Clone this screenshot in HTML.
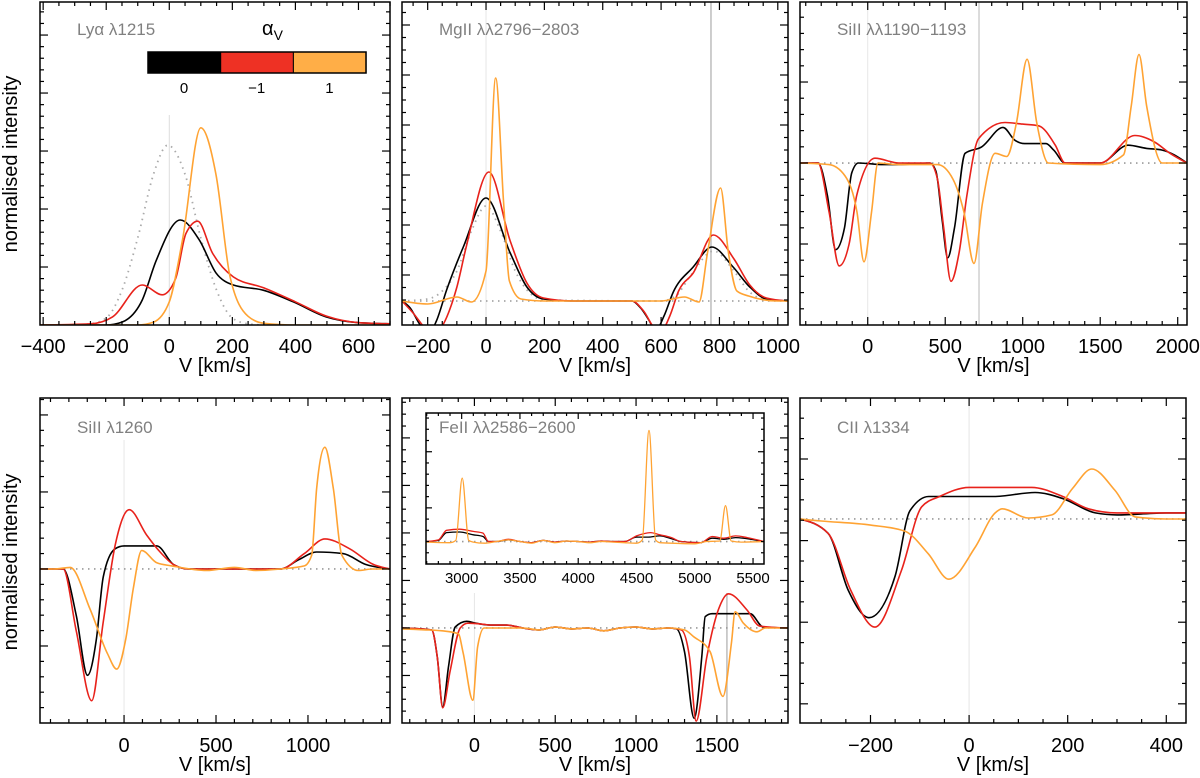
<!DOCTYPE html>
<html><head><meta charset="utf-8"><style>
body{margin:0;background:#fff}
svg{display:block;font-family:"Liberation Sans",sans-serif}
</style></head><body>
<svg id="chart" width="1200" height="778" viewBox="0 0 1200 778"></svg>
<script>
// ---------- data (velocity km/s, normalised intensity) ----------
// Ly-alpha
const lyaBlackV=[-410,-200,-150,-86,-41,35,95,148,203,298,393,497,600,700];
const lyaBlackI=[0,0,0.05,0.43,1.12,1.81,1.47,0.9,0.69,0.6,0.4,0.14,0.04,0.02];
const lyaRedV=[-410,-250,-180,-86,-22,20,53,90,137,203,300,400,500,600,700];
const lyaRedI=[0,0.02,0.14,0.69,0.52,0.8,1.58,1.79,1.24,0.83,0.64,0.4,0.15,0.04,0.02];
const lyaOrangeV=[-410,-100,-50,0,42,100,148,193,250,300,400,700];
const lyaOrangeI=[0,0,0.05,0.4,1.47,3.4,2.6,0.83,0.15,0.03,0,0];
const lyaIntrV=[-300,-250,-200,-150,-100,-50,-5,50,100,150,200,250,300];
const lyaIntrI=[0,0.02,0.12,0.6,1.5,2.6,3.1,2.6,1.5,0.6,0.12,0.02,0];
// MgII
const mgBlackV=[-288,-260,-230,-200,-170,-135,-78,0,83,140,197,300,500,530,560,580,610,642,710,774,847,904,961,1035];
const mgBlackI=[1.0,0.93,0.78,0.66,0.8,1.11,1.54,2.03,1.48,1.14,1.02,1.0,1.0,0.93,0.8,0.7,0.85,1.09,1.34,1.54,1.34,1.14,1.02,1.0];
const mgRedV=[-288,-250,-200,-180,-150,-120,-100,-68,10,83,140,197,300,500,540,580,600,630,660,710,779,850,904,961,1035];
const mgRedI=[1.0,0.88,0.7,0.66,0.75,0.95,1.14,1.54,2.29,1.6,1.18,1.03,1.0,1.0,0.9,0.72,0.7,0.85,1.1,1.28,1.66,1.42,1.16,1.03,1.0];
const mgOrangeV=[-288,-200,-100,-50,0,33,60,80,120,200,600,680,730,760,804,830,860,900,1000,1035];
const mgOrangeI=[1.0,0.97,1.04,0.99,1.3,3.23,2.0,1.2,1.02,1.0,1.0,1.04,0.99,1.5,2.13,1.5,1.1,1.05,1.0,1.0];
const mgIntrV=[-288,-200,-150,-100,-50,0,50,100,150,200,600,650,700,780,850,900,950,1035];
const mgIntrI=[1.0,1.02,1.1,1.3,1.7,1.95,1.7,1.3,1.08,1.01,1.0,1.05,1.25,1.5,1.3,1.1,1.02,1.0];
// SiII 1190-1193
const si1BlackV=[-437,-320,-260,-207,-150,-103,-60,100,200,400,440,480,516,560,628,736,873,950,1013,1150,1200,1273,1500,1680,1800,1900,2060];
const si1BlackI=[1.0,1.0,0.8,0.465,0.6,0.94,1.0,0.99,0.99,1.0,0.95,0.65,0.415,0.6,1.06,1.1,1.22,1.14,1.12,1.12,1.08,1.0,1.0,1.11,1.09,1.08,1.0];
const si1RedV=[-437,-320,-250,-184,-120,-71,47,200,400,450,490,537,590,640,715,886,1000,1102,1210,1273,1500,1723,1850,1950,2060];
const si1RedI=[1.0,1.0,0.7,0.365,0.5,0.8,1.03,1.0,1.0,0.9,0.6,0.27,0.45,0.8,1.15,1.25,1.24,1.23,1.11,1.0,1.0,1.17,1.13,1.06,1.0];
const si1OrangeV=[-437,-250,-146,-70,-24,25,66,200,450,550,620,686,740,822,897,960,1028,1090,1166,1500,1650,1700,1750,1800,1900,2060];
const si1OrangeI=[1.0,0.99,0.92,0.7,0.39,0.7,1.0,0.99,0.99,0.9,0.7,0.38,0.75,1.06,1.04,1.25,1.64,1.25,1.0,0.99,1.05,1.35,1.67,1.35,1.0,1.0];
// SiII 1260
const si2BlackV=[-457,-331,-260,-199,-150,-113,-50,0,178,268,350,600,850,950,1047,1190,1313,1446];
const si2BlackI=[1.0,1.0,0.7,0.31,0.55,0.95,1.13,1.15,1.15,1.03,1.0,1.0,1.0,1.06,1.11,1.1,1.03,1.0];
const si2RedV=[-457,-331,-260,-176,-114,-49,28,123,196,268,350,600,850,980,1092,1228,1355,1446];
const si2RedI=[1.0,1.0,0.6,0.145,0.65,1.15,1.385,1.22,1.11,1.03,1.0,1.0,1.0,1.1,1.195,1.13,1.03,1.0];
const si2OrangeV=[-457,-380,-293,-185,-90,-40,10,50,96,178,260,450,600,720,850,980,1020,1047,1092,1138,1184,1275,1350,1446];
const si2OrangeI=[1.0,1.0,1.01,0.74,0.45,0.35,0.55,0.87,1.12,1.04,1.02,0.99,1.01,0.99,1.0,1.02,1.09,1.52,1.79,1.52,1.09,0.99,1.0,1.0];
// FeII 2586-2600 (main)
const feBlackV=[-448,-264,-230,-196,-160,-119,-47,9,100,200,300,400,500,600,700,800,900,1000,1100,1200,1250,1300,1359,1407,1428,1470,1600,1706,1787,1940];
const feBlackI=[1.0,0.98,0.7,0.17,0.6,1.01,1.07,1.05,1.03,1.03,1.0,0.98,1.01,0.99,1.0,0.97,1.0,1.01,0.99,1.0,0.99,0.75,0.05,0.7,1.12,1.15,1.15,1.15,1.01,1.0];
const feRedV=[-448,-264,-230,-196,-150,-88,-40,50,100,200,300,400,500,600,700,800,900,1000,1100,1200,1280,1330,1372,1438,1509,1572,1686,1765,1940];
const feRedI=[1.0,0.98,0.7,0.16,0.55,1.0,1.05,1.04,1.03,1.03,1.0,0.98,1.01,0.99,1.0,0.97,1.0,1.01,0.99,1.0,0.98,0.7,0.02,0.7,1.19,1.36,1.19,1.02,1.0];
const feOrangeV=[-448,-300,-200,-100,-70,-10,20,60,150,300,400,500,600,700,800,900,1000,1100,1200,1300,1355,1458,1537,1590,1613,1664,1747,1800,1940];
const feOrangeI=[0.99,0.98,0.97,0.94,0.74,0.24,0.8,1.0,1.0,1.0,0.98,1.01,0.99,1.0,0.97,1.0,1.01,0.99,1.0,0.98,0.91,0.75,0.28,0.84,1.17,1.05,0.96,1.0,1.0];
// FeII inset
const insBlackV=[2694,2800,2871,2983,3100,3183,3230,3300,3400,3500,3600,3700,3800,3900,4000,4100,4200,4300,4400,4500,4600,4700,4800,4880,5050,5150,5250,5350,5450,5594];
const insBlackI=[1.0,1.02,1.16,1.17,1.12,1.09,1.0,1.0,1.03,1.0,0.98,1.02,0.99,1.01,1.0,0.99,1.01,1.0,1.0,1.08,1.08,1.1,1.05,1.0,0.98,1.06,1.04,1.07,1.05,1.0];
const insRedV=[2694,2800,2871,2983,3100,3183,3230,3300,3400,3500,3600,3700,3800,3900,4000,4100,4200,4300,4400,4500,4620,4700,4800,4880,5050,5150,5250,5350,5450,5594];
const insRedI=[1.0,1.03,1.2,1.22,1.18,1.15,1.0,1.0,1.04,1.0,0.98,1.02,0.99,1.01,1.0,0.99,1.01,1.0,1.0,1.1,1.16,1.12,1.07,1.0,0.98,1.09,1.06,1.1,1.07,1.0];
const insOrangeV=[2694,2900,2950,3005,3060,3100,3200,3300,3400,3500,3600,3700,3800,3900,4000,4100,4200,4300,4400,4500,4550,4607,4664,4700,4800,5000,5100,5215,5264,5313,5400,5594];
const insOrangeI=[0.99,0.98,1.02,2.13,1.02,0.99,0.97,1.0,1.03,1.0,0.97,1.02,0.98,1.01,1.0,0.98,1.0,0.99,0.98,0.97,1.03,2.98,1.03,0.98,0.97,0.96,1.0,1.01,1.64,1.01,0.99,1.0];
// CII 1334
const ciiBlackV=[-343,-286,-245,-203,-150,-120,-82,50,134,190,256,300,400,440];
const ciiBlackI=[1.0,0.93,0.65,0.516,0.72,1.04,1.11,1.11,1.13,1.1,1.03,1.02,1.03,1.03];
const ciiRedV=[-343,-286,-240,-191,-137,-96,-60,0,127,190,242,300,400,440];
const ciiRedI=[1.0,0.93,0.65,0.47,0.75,1.06,1.11,1.155,1.155,1.11,1.05,1.03,1.03,1.03];
const ciiOrangeV=[-343,-300,-200,-130,-83,-41,12,53,67,120,168,210,249,296,337,400,440];
const ciiOrangeI=[1.0,0.99,0.97,0.94,0.83,0.705,0.86,1.03,1.05,1.005,1.02,1.15,1.245,1.14,1.01,1.0,1.0];

// ---------- tick labels ----------
const lyaTicks=[-400,-200,0,200,400,600];
const mgTicks=[-200,0,200,400,600,800,1000];
const si1Ticks=[0,500,1000,1500,2000];
const si2Ticks=[0,500,1000];
const feTicks=[0,500,1000,1500];
const insTicks=[3000,3500,4000,4500,5000,5500];
const ciiTicks=[-200,0,200,400];
const legendLabels=["0","\u22121","1"];

// ---------- rendering ----------
const NS="http://www.w3.org/2000/svg";
const svg=document.getElementById('chart');
function el(tag,attrs,parent){const e=document.createElementNS(NS,tag);for(const k in attrs)e.setAttribute(k,attrs[k]);(parent||svg).appendChild(e);return e;}
const COL={black:"#000",red:"#e8221b",orange:"#ffa333"};
function fmt(v){return v<0?"\u2212"+(-v):String(v);}
function sgn(x){return x<0?-1:1;}
// monotone cubic (like d3 curveMonotoneX)
function smoothPath(p){
  const n=p.length;const t=new Array(n);
  const h=[],s=[];
  for(let i=0;i<n-1;i++){h[i]=p[i+1][0]-p[i][0];s[i]=(p[i+1][1]-p[i][1])/h[i];}
  for(let i=1;i<n-1;i++){
    const s0=s[i-1],s1=s[i],pp=(s0*h[i]+s1*h[i-1])/(h[i-1]+h[i]);
    t[i]=(sgn(s0)+sgn(s1))*Math.min(Math.abs(s0),Math.abs(s1),0.5*Math.abs(pp))||0;
  }
  t[0]=n>2?(3*s[0]-t[1])/2:s[0];
  t[n-1]=n>2?(3*s[n-2]-t[n-2])/2:s[n-2];
  let d="M"+p[0][0].toFixed(1)+","+p[0][1].toFixed(1);
  for(let i=0;i<n-1;i++){
    const dx=h[i]/3;
    d+="C"+(p[i][0]+dx).toFixed(1)+","+(p[i][1]+t[i]*dx).toFixed(1)+" "+(p[i+1][0]-dx).toFixed(1)+","+(p[i+1][1]-t[i+1]*dx).toFixed(1)+" "+p[i+1][0].toFixed(1)+","+p[i+1][1].toFixed(1);
  }
  return d;
}
let clipId=0;
function panel(cfg){
  const g=el('g',{});
  
  
  const xs=v=>cfg.x0+(v-cfg.xmin)/(cfg.xmax-cfg.xmin)*(cfg.x1-cfg.x0);
  const ys=I=>cfg.y1-(I-cfg.ymin)/(cfg.ymax-cfg.ymin)*(cfg.y1-cfg.y0);
  const cid='clip'+(clipId++);
  const cp=el('clipPath',{id:cid},g);
  el('rect',{x:cfg.x0,y:cfg.y0,width:cfg.x1-cfg.x0,height:cfg.y1-cfg.y0},cp);
  if(cfg.bg){el('rect',{x:cfg.x0,y:cfg.y0,width:cfg.x1-cfg.x0,height:cfg.y1-cfg.y0,fill:'#fff'},g);}
  const inner=el('g',{'clip-path':'url(#'+cid+')'},g);
  (cfg.vlines||[]).forEach(vl=>{
    const l=el('line',{x1:xs(vl.v),x2:xs(vl.v),y1:vl.top,y2:cfg.y1,stroke:vl.c,'stroke-width':vl.w||1},inner);
    
    
  });
  if(cfg.cont!==undefined){
    const l=el('line',{x1:cfg.x0,x2:cfg.x1,y1:ys(cfg.cont),y2:ys(cfg.cont),stroke:'#999','stroke-width':1.6,'stroke-dasharray':'1.5 4.5'},inner);
    
    
  }
  cfg.series.forEach(s=>{
    const pts=s.v.map((v,i)=>[xs(v),ys(s.i[i])]);
    const p=el('path',{d:smoothPath(pts),fill:'none',stroke:s.c,'stroke-width':s.w||1.6,'stroke-dasharray':s.dash||'none','stroke-linejoin':'round'},inner);
    
    
  });
  const fr=el('rect',{x:cfg.x0,y:cfg.y0,width:cfg.x1-cfg.x0,height:cfg.y1-cfg.y0,fill:'none',stroke:'#000','stroke-width':1.5},g);
  
  
  const tk=el('g',{stroke:'#000','stroke-width':1.2},g);
  for(let v=Math.ceil(cfg.xmin/cfg.xminor)*cfg.xminor;v<=cfg.xmax;v+=cfg.xminor){
    const major=Math.abs(v/cfg.xmajor-Math.round(v/cfg.xmajor))<1e-6;
    const L=major?cfg.tl:cfg.tl/2;const x=xs(v);
    el('line',{x1:x,x2:x,y1:cfg.y1,y2:cfg.y1-L},tk);
    el('line',{x1:x,x2:x,y1:cfg.y0,y2:cfg.y0+L},tk);
  }
  for(let k=0;;k++){
    const I=cfg.ystart+k*cfg.yminor;if(I>cfg.ymax+1e-9)break;
    const major=k%cfg.ymajN===0;const L=major?cfg.tl:cfg.tl/2;const y=ys(I);
    if(y<cfg.y0+0.5||y>cfg.y1-0.5)continue;
    el('line',{x1:cfg.x0,x2:cfg.x0+L,y1:y,y2:y},tk);
    el('line',{x1:cfg.x1,x2:cfg.x1-L,y1:y,y2:y},tk);
  }
  cfg.ticks.forEach(v=>{
    const t=el('text',{x:xs(v),y:cfg.tickY,'font-size':cfg.tickFs,'text-anchor':'middle',fill:'#000'},g);
    t.textContent=fmt(v);
    
    
  });
  if(cfg.xlabel){
    const t=el('text',{x:(cfg.x0+cfg.x1)/2,y:cfg.xlabelY,'font-size':20,'text-anchor':'middle'},g);
    t.textContent="V [km/s]";
    
    
  }
  if(cfg.title){
    const tt=el('text',{x:cfg.titleX,y:cfg.titleY,'font-size':17,fill:'#808080'},g);
    tt.textContent=cfg.title;
    
    
  }
  return g;
}
function S(name,v,i,c,dash,w){return {name,v,i,c,dash,w};}
const common={tl:8,tickFs:20,xlabel:true};

panel(Object.assign({},common,{name:'panel-lya',x0:40,x1:390,y0:2,y1:325,xmin:-410,xmax:700,ymin:0,ymax:5.57,xmajor:200,xminor:50,ystart:0,yminor:0.2,ymajN:5,
  ticks:lyaTicks,tickY:353,xlabelY:372,title:"Ly\u03b1 \u03bb1215",titleX:77,titleY:35,
  vlines:[{v:0,top:115,c:'#ddd'}],
  series:[S('lya-intrinsic-dotted',lyaIntrV,lyaIntrI,'#aaa','1.5 4.5',1.8),S('lya-alpha-0',lyaBlackV,lyaBlackI,COL.black),S('lya-alpha-minus1',lyaRedV,lyaRedI,COL.red),S('lya-alpha-1',lyaOrangeV,lyaOrangeI,COL.orange)]}));

panel(Object.assign({},common,{name:'panel-mgii',x0:402,x1:788,y0:2,y1:325,xmin:-288,xmax:1035,ymin:0.76,ymax:3.99,xmajor:200,xminor:50,ystart:0.76,yminor:0.125,ymajN:4,cont:1.0,
  ticks:mgTicks,tickY:353,xlabelY:372,title:"MgII \u03bb\u03bb2796\u22122803",titleX:439,titleY:35,
  vlines:[{v:0,top:10,c:'#e6e6e6'},{v:771,top:2,c:'#c8c8c8',w:1.8}],
  series:[S('mgii-intrinsic-dotted',mgIntrV,mgIntrI,'#aaa','1.5 4.5',1.8),S('mgii-alpha-0',mgBlackV,mgBlackI,COL.black),S('mgii-alpha-minus1',mgRedV,mgRedI,COL.red),S('mgii-alpha-1',mgOrangeV,mgOrangeI,COL.orange)]}));

panel(Object.assign({},common,{name:'panel-siii-1190',x0:800,x1:1187,y0:2,y1:325,xmin:-437,xmax:2060,ymin:0,ymax:1.994,xmajor:500,xminor:100,ystart:0,yminor:0.1,ymajN:5,cont:1.0,
  ticks:si1Ticks,tickY:353,xlabelY:372,title:"SiII \u03bb\u03bb1190\u22121193",titleX:837,titleY:35,
  vlines:[{v:0,top:2,c:'#e6e6e6'},{v:718,top:2,c:'#c8c8c8',w:1.3}],
  series:[S('siii1190-alpha-0',si1BlackV,si1BlackI,COL.black),S('siii1190-alpha-minus1',si1RedV,si1RedI,COL.red),S('siii1190-alpha-1',si1OrangeV,si1OrangeI,COL.orange)]}));

panel(Object.assign({},common,{name:'panel-siii-1260',x0:40,x1:390,y0:398,y1:723,xmin:-457,xmax:1446,ymin:0,ymax:2.11,xmajor:500,xminor:100,ystart:0,yminor:0.1,ymajN:5,cont:1.0,
  ticks:si2Ticks,tickY:752,xlabelY:771,title:"SiII \u03bb1260",titleX:77,titleY:433,
  vlines:[{v:0,top:440,c:'#e6e6e6'}],
  series:[S('siii1260-alpha-0',si2BlackV,si2BlackI,COL.black),S('siii1260-alpha-minus1',si2RedV,si2RedI,COL.red),S('siii1260-alpha-1',si2OrangeV,si2OrangeI,COL.orange)]}));

panel(Object.assign({},common,{name:'panel-feii',x0:402,x1:788,y0:398,y1:723,xmin:-448,xmax:1940,ymin:0,ymax:3.42,xmajor:500,xminor:100,ystart:0,yminor:0.125,ymajN:4,cont:1.0,
  ticks:feTicks,tickY:752,xlabelY:771,title:"",titleX:0,titleY:0,
  vlines:[{v:0,top:593,c:'#e6e6e6'},{v:1562,top:593,c:'#c8c8c8',w:1.8}],
  series:[S('feii-alpha-0',feBlackV,feBlackI,COL.black),S('feii-alpha-minus1',feRedV,feRedI,COL.red),S('feii-alpha-1',feOrangeV,feOrangeI,COL.orange)]}));

panel({name:'panel-feii-inset',bg:true,tl:6,tickFs:15,xlabel:false,x0:426,x1:764,y0:413,y1:564,xmin:2694,xmax:5594,ymin:0.6,ymax:3.29,xmajor:500,xminor:100,ystart:0.6,yminor:0.2,ymajN:5,cont:1.0,
  ticks:insTicks,tickY:583,title:"FeII \u03bb\u03bb2586\u22122600",titleX:439,titleY:433,
  series:[S('feii-inset-alpha-0',insBlackV,insBlackI,COL.black,null,1.3),S('feii-inset-alpha-minus1',insRedV,insRedI,COL.red,null,1.3),S('feii-inset-alpha-1',insOrangeV,insOrangeI,COL.orange,null,1.3)]});

panel(Object.assign({},common,{name:'panel-cii',x0:800,x1:1186,y0:398,y1:723,xmin:-343,xmax:440,ymin:0,ymax:1.593,xmajor:200,xminor:50,ystart:0.094,yminor:0.1,ymajN:4,cont:1.0,
  ticks:ciiTicks,tickY:752,xlabelY:771,title:"CII \u03bb1334",titleX:837,titleY:433,
  vlines:[{v:0,top:398,c:'#e6e6e6'}],
  series:[S('cii-alpha-0',ciiBlackV,ciiBlackI,COL.black),S('cii-alpha-minus1',ciiRedV,ciiRedI,COL.red),S('cii-alpha-1',ciiOrangeV,ciiOrangeI,COL.orange)]}));

[[164],[562]].forEach(([cy])=>{
  const t=el('text',{x:0,y:0,'font-size':20,'text-anchor':'middle',transform:'translate(17,'+cy+') rotate(-90)'});
  t.textContent="normalised intensity";
  
  
});

const leg=el('g',{});


const legCols=["#000","#ee3124","#ffae47"];
legCols.forEach((c,i)=>{
  const r=el('rect',{x:148+i*72.7,y:52,width:72.7,height:21,fill:c,stroke:'#000','stroke-width':1},leg);
  
  
  const t=el('text',{x:148+i*72.7+36,y:93,'font-size':15,'text-anchor':'middle'},leg);
  t.textContent=legendLabels[i];
  
  
});
el('rect',{x:148,y:52,width:218,height:21,fill:'none',stroke:'#000','stroke-width':1.5},leg);
const at=el('text',{x:262,y:35,'font-size':20},leg);
at.innerHTML='\u03b1<tspan font-size="14" dy="5">V</tspan>';


</script>
</body></html>
